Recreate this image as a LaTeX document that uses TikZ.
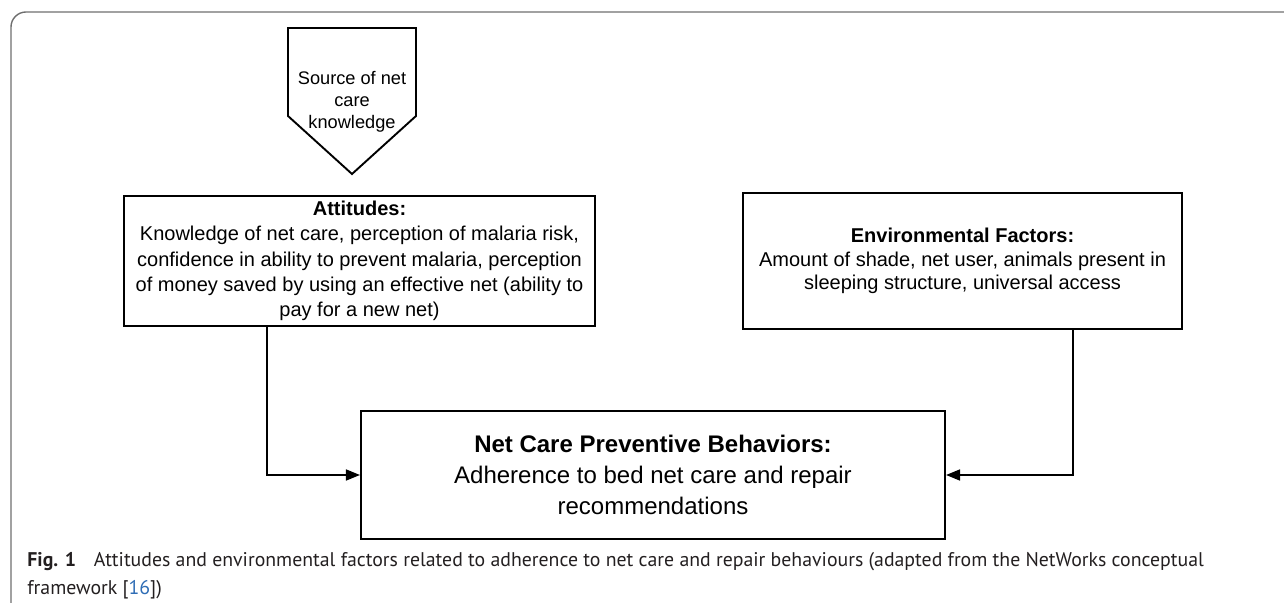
\documentclass[tikz,border=0pt]{standalone}
\usepackage{fontspec}
\setmainfont{Liberation Sans}
\newfontfamily\capfont{PT Sans}
\usetikzlibrary{arrows.meta}
\definecolor{framegray}{HTML}{6E6E6E}
\definecolor{captext}{HTML}{231F20}
\definecolor{linkblue}{HTML}{2F6DB5}
\tikzset{
  factorbox/.style={draw=black, line width=0.95pt, align=center, inner sep=0pt},
  flowline/.style={line width=0.85pt, -{Triangle[length=7pt,width=5.5pt]}},
}
\begin{document}
\begin{tikzpicture}[x=0.5pt, y=-0.5pt]
                \useasboundingbox (0,0) rectangle (1284,603);
                % figure frame
                \draw [framegray, line width=0.7pt, rounded corners=7.5pt] (11,603) -- (11,12) -- (1284,12);
                % knowledge source
                \draw [line width=0.95pt] (288,28) -- (416,28) -- (416,116) -- (352,174) -- (288,116) -- cycle;
                \node (source) [align=center, font=\fontsize{9.1}{11}\selectfont] at (352,102) {Source of net\\care\\knowledge};
                % boxes
                \node (att) [factorbox, minimum width=235.5pt, minimum height=65pt, font=\fontsize{10}{12.6}\selectfont] at (359.5,261)
                    {\textbf{Attitudes:}\\Knowledge of net care, perception of malaria risk,\\confidence in ability to prevent malaria, perception\\of money saved by using an effective net (ability to\\pay for a new net)};
                \node (env) [factorbox, minimum width=219.5pt, minimum height=68pt, font=\fontsize{10}{11.8}\selectfont] at (962.5,261)
                    {\textbf{Environmental Factors:}\\Amount of shade, net user, animals present in\\sleeping structure, universal access};
                \node (net) [factorbox, line width=1.05pt, minimum width=292pt, minimum height=64pt, font=\fontsize{12}{15.5}\selectfont] at (653,475)
                    {\textbf{Net Care Preventive Behaviors:}\\Adherence to bed net care and repair\\recommendations};
                % connectors
                \draw [flowline] (att.south west) ++(144,0) |- (net.west);
                \draw [flowline] (env.south east) ++(-110,0) |- (net.east);
                % caption
                \node (capA) [anchor=base west, inner sep=0pt, text=captext, font=\capfont\fontsize{9.9}{13.5}\selectfont] at (27,567)
                    {\textbf{Fig. 1}\hspace{0.9em}Attitudes and environmental factors related to adherence to net care and repair behaviours (adapted from the NetWorks conceptual};
                \node (capB) [anchor=base west, inner sep=0pt, text=captext, font=\capfont\fontsize{9.9}{13.5}\selectfont] at (27,594)
                    {framework [\textcolor{linkblue}{16}])};
\end{tikzpicture}
\end{document}
